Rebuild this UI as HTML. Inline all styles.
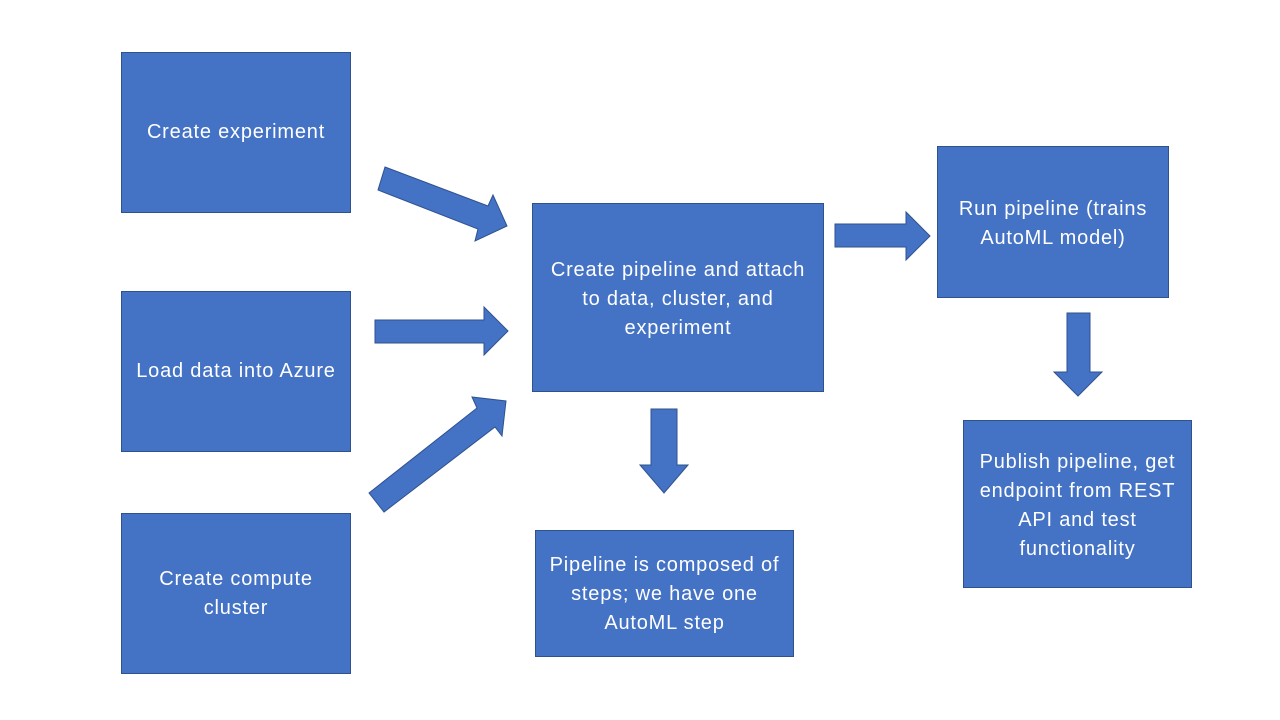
<!DOCTYPE html>
<html><head><style>
body{margin:0;background:#fff;}
.b{position:absolute;background:#4472c4;border:1px solid #2f528f;box-sizing:border-box;color:#fff;font-family:"Liberation Sans",sans-serif;font-size:20px;letter-spacing:0.8px;line-height:29px;display:flex;align-items:center;justify-content:center;text-align:center;padding:0 2px;white-space:nowrap;}
</style></head><body>
<div style="position:relative;width:1280px;height:720px;overflow:hidden">
<div class="b" style="left:121px;top:52px;width:230px;height:161px">Create experiment</div>
<div class="b" style="left:121px;top:291px;width:230px;height:161px">Load data into Azure</div>
<div class="b" style="left:121px;top:513px;width:230px;height:161px">Create compute<br>cluster</div>
<div class="b" style="left:532px;top:203px;width:292px;height:189px;padding-top:4px">Create pipeline and attach<br>to data, cluster, and<br>experiment</div>
<div class="b" style="left:535px;top:530px;width:259px;height:127px;padding-top:2px">Pipeline is composed of<br>steps; we have one<br>AutoML step</div>
<div class="b" style="left:937px;top:146px;width:232px;height:152px;align-items:flex-start;padding-top:48px">Run pipeline (trains<br>AutoML model)</div>
<div class="b" style="left:963px;top:420px;width:229px;height:168px;padding-top:3px">Publish pipeline, get<br>endpoint from REST<br>API and test<br>functionality</div>
<svg width="1280" height="720" style="position:absolute;left:0;top:0">
<g fill="#4472c4" stroke="#2f528f" stroke-width="1">
<polygon points="385,167 488,206 493,195 507,226 475,241 478,229 378,190"/>
<polygon points="375,320 484,320 484,307 508,331 484,355 484,343 375,343"/>
<polygon points="369,493 477,408 472,397 506,401 502,436 495,427 384,512"/>
<polygon points="835,224 906,224 906,212 930,236 906,260 906,247 835,247"/>
<polygon points="651,409 677,409 677,465 688,465 664,493 640,465 651,465"/>
<polygon points="1067,313 1090,313 1090,372 1102,372 1078,396 1054,372 1067,372"/>
</g></svg>
</div></body></html>
